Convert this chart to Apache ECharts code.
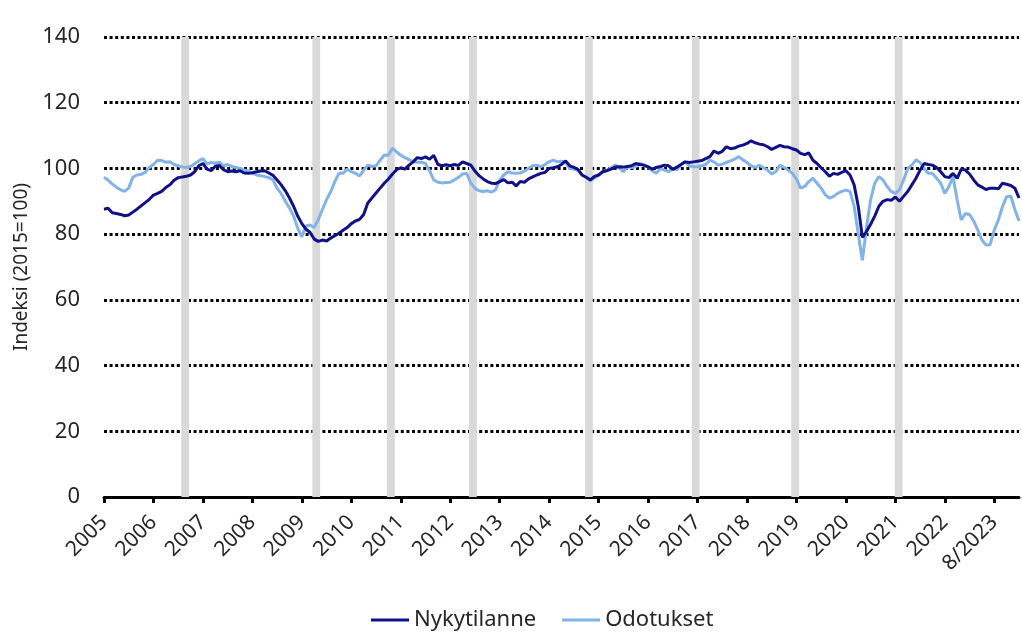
<!DOCTYPE html>
<html>
<head>
<meta charset="utf-8">
<script src="https://cdn.jsdelivr.net/npm/echarts@6/dist/echarts.min.js"></script>
<style>
  html, body { margin: 0; padding: 0; background: #fff; }
  #chart { width: 1022px; height: 636px; }
</style>
</head>
<body>
<div id="chart"></div>
<script>
// tick labels, one per January (the last one is labelled with the latest month)
const tickLabels = ['2005', '2006', '2007', '2008', '2009', '2010', '2011', '2012', '2013', '2014',
  '2015', '2016', '2017', '2018', '2019', '2020', '2021', '2022', '8/2023']

// monthly index values, 2005-01 ->
const nykytilanne = [
  87.6, 87.9, 86.5, 86.3, 86.0, 85.6, 85.8, 86.7, 87.6, 88.6, 89.6, 90.6,
  91.9, 92.4, 93.0, 94.2, 95.0, 96.4, 97.2, 97.4, 97.6, 98.0, 99.0, 100.8,
  101.5, 99.8, 99.3, 100.7, 100.9, 99.6, 99.0, 99.2, 99.0, 99.3, 98.6, 98.5,
  98.7, 99.0, 99.2, 99.3, 98.6, 97.9, 96.5, 95.0, 93.2, 91.0, 88.5, 85.5,
  83.2, 81.5, 80.5, 78.5, 77.8, 78.2, 77.9, 78.8, 79.5, 80.3, 81.2, 82.0,
  83.2, 84.0, 84.5, 86.0, 89.5, 91.0, 92.5, 94.0, 95.5, 96.8, 98.3, 99.6,
  100.2, 99.8, 101.0, 102.0, 103.3, 103.0, 103.5, 102.8, 104.0, 101.2, 100.8, 101.1,
  100.8, 101.2, 100.9, 102.0, 101.5, 101.0, 99.2, 97.8, 96.8, 96.0, 95.5, 95.4,
  96.0, 96.6, 95.6, 95.8, 94.7, 96.0, 95.8, 96.8, 97.4, 98.0, 98.5, 98.8,
  100.0, 100.2, 100.5, 101.2, 102.3, 100.8, 100.3, 99.7, 98.0, 97.3, 96.5, 97.6,
  98.0, 99.0, 99.3, 99.8, 100.4, 100.5, 100.4, 100.6, 100.8, 101.5, 101.2, 101.0,
  100.5, 99.8, 100.3, 100.6, 101.0, 100.8, 99.7, 100.4, 101.2, 102.0, 101.8, 102.0,
  102.2, 102.4, 103.0, 103.6, 105.3, 104.6, 105.2, 106.6, 106.0, 106.2, 106.8, 107.1,
  107.6, 108.4, 107.8, 107.4, 107.2, 106.6, 105.8, 106.4, 107.0, 106.6, 106.5, 106.0,
  105.6, 104.6, 104.2, 104.7, 102.5, 101.5, 100.2, 99.0, 97.6, 98.5, 98.2, 98.8,
  99.3, 98.0, 95.0, 88.5, 79.0, 80.8, 83.0, 85.5, 88.5, 90.0, 90.5, 90.3,
  91.3, 90.0, 91.5, 93.0, 95.0, 97.0, 99.5, 101.5, 101.2, 101.0, 100.3, 99.0,
  97.5, 97.2, 98.5, 97.0, 99.8, 99.5, 98.3, 96.5, 95.0, 94.3, 93.6, 94.0,
  94.0, 93.8, 95.5, 95.2, 94.8, 94.0, 91.0
]
const odotukset = [
  97.3, 96.4, 95.3, 94.3, 93.5, 93.0, 94.0, 97.3, 98.0, 98.2, 98.8, 100.3,
  101.2, 102.5, 102.4, 101.9, 102.0, 101.2, 100.8, 100.4, 100.3, 100.6, 101.4, 102.3,
  103.0, 101.4, 101.8, 101.6, 101.9, 100.8, 101.2, 100.6, 100.3, 100.0, 99.5, 99.2,
  98.6, 98.0, 97.8, 97.5, 97.2, 96.5, 94.0, 92.3, 90.0, 88.0, 85.5, 81.8,
  79.2, 82.5, 82.8, 82.0, 84.5, 87.5, 90.5, 92.9, 96.0, 98.5, 98.5, 99.8,
  99.0, 98.5, 97.7, 99.5, 101.0, 100.6, 100.8, 102.5, 104.1, 104.0, 106.2, 105.0,
  104.0, 103.3, 102.7, 102.0, 101.9, 101.9, 101.5, 99.3, 96.5, 95.8, 95.6, 95.7,
  95.8, 96.5, 97.3, 98.3, 98.5, 95.5, 94.0, 93.2, 93.0, 93.2, 92.8, 93.5,
  96.5, 98.0, 99.0, 98.6, 98.5, 98.6, 99.2, 100.0, 100.8, 101.0, 100.5, 101.2,
  102.0, 102.5, 102.0, 102.2, 101.8, 100.0, 99.8, 99.3, 98.0, 97.2, 96.3, 97.0,
  98.0, 99.0, 99.5, 100.2, 101.0, 100.3, 99.0, 100.5, 100.3, 100.5, 101.5, 101.0,
  100.5, 99.3, 98.5, 100.0, 99.5, 99.0, 100.0, 99.6, 101.2, 102.0, 100.8, 100.5,
  100.6, 100.8, 101.2, 102.5, 102.0, 101.0, 101.3, 101.8, 102.3, 102.8, 103.6, 102.6,
  101.8, 100.8, 100.3, 101.0, 100.2, 99.5, 98.3, 99.0, 101.0, 100.3, 99.5, 98.5,
  96.8, 94.0, 94.5, 96.0, 97.0, 95.5, 94.0, 92.0, 91.0, 91.5, 92.4, 93.0,
  93.4, 93.0, 88.5, 80.0, 72.0, 82.0, 90.5, 95.5, 97.5, 96.5, 94.5, 93.0,
  92.4, 93.5, 96.5, 100.0, 101.0, 102.6, 101.8, 100.0, 98.5, 98.5, 97.0, 95.5,
  92.4, 94.5, 97.5, 90.4, 84.3, 86.3, 86.0, 84.0, 81.3, 78.2, 76.7, 76.8,
  81.3, 84.3, 88.4, 91.4, 91.6, 87.5, 84.0
]

// months (index from 2005-01) marked with a grey band
const bandMonths = [19.7, 51.5, 69.6, 89.5, 117.65, 143.55, 167.7, 192.8]

const months = nykytilanne.map((v, i) => String(i))
const lastMonth = nykytilanne.length - 1

const font = 'Noto Sans'
const chart = echarts.init(document.getElementById('chart'))
chart.setOption({
  animation: false,
  grid: { left: 104, right: 3, top: 37, bottom: 139 },
  legend: {
    bottom: 0,
    left: 366,
    icon: 'rect',
    itemWidth: 38,
    itemHeight: 3,
    itemGap: 26,
    textStyle: { fontFamily: font, fontSize: 22, color: '#262626' },
    data: ['Nykytilanne', 'Odotukset']
  },
  xAxis: [
    {
      type: 'category',
      data: months,
      boundaryGap: false,
      axisLine: { lineStyle: { color: '#000', width: 3 } },
      axisTick: { interval: 11, length: 6, lineStyle: { color: '#000', width: 3 } },
      axisLabel: {
        interval: 11,
        rotate: 45,
        margin: 22,
        fontFamily: font,
        fontSize: 21,
        color: '#262626',
        formatter: (v, i) => tickLabels[i / 12]
      },
      splitLine: { show: false }
    },
    {
      type: 'value',
      min: 0,
      max: lastMonth,
      show: false
    }
  ],
  yAxis: {
    type: 'value',
    min: 0,
    max: 140,
    interval: 20,
    name: 'Indeksi (2015=100)',
    nameLocation: 'middle',
    nameGap: 70,
    nameTextStyle: { fontFamily: font, fontSize: 19, color: '#262626' },
    axisLine: { show: false },
    axisTick: { show: false },
    axisLabel: { margin: 24, fontFamily: font, fontSize: 22, color: '#262626' },
    splitLine: { lineStyle: { color: '#000', width: 3, type: [3, 2.6] } }
  },
  series: [
    {
      name: 'bands',
      type: 'line',
      xAxisIndex: 1,
      data: [],
      z: 1,
      silent: true,
      markArea: {
        silent: true,
        itemStyle: { color: '#d9d9d9' },
        data: bandMonths.map(c => [{ xAxis: c - 0.95 }, { xAxis: c + 0.95 }])
      }
    },
    {
      name: 'Nykytilanne',
      type: 'line',
      data: nykytilanne,
      showSymbol: false,
      z: 4,
      lineStyle: { color: '#10108a', width: 3 },
      itemStyle: { color: '#10108a' }
    },
    {
      name: 'Odotukset',
      type: 'line',
      data: odotukset,
      showSymbol: false,
      z: 3,
      lineStyle: { color: '#80b3e9', width: 3 },
      itemStyle: { color: '#80b3e9' }
    }
  ]
})
</script>
</body>
</html>
